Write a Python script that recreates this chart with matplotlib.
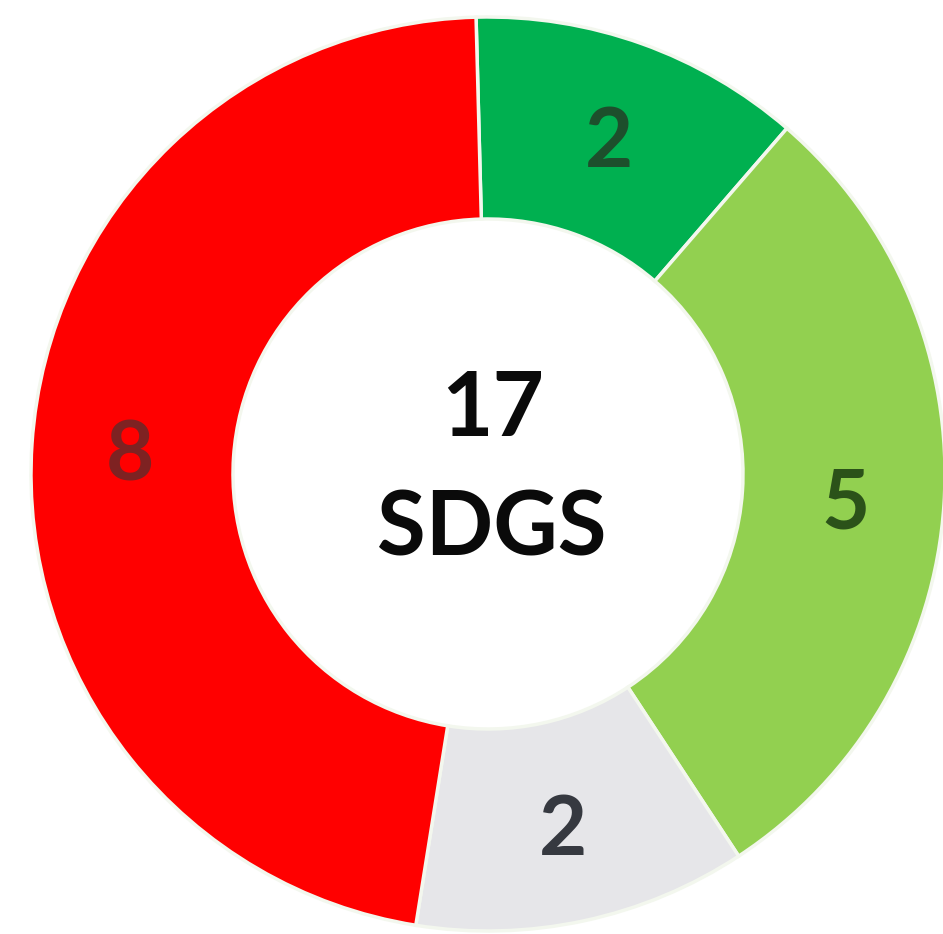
import matplotlib.pyplot as plt

# SDG status counts, clockwise from the top
categories = ['On track', 'Improving', 'No data', 'Off track']
counts = [2, 5, 2, 8]
wedge_colors = ['#00b050', '#92d050', '#e6e6e9', '#ff0000']
label_colors = ['#1d4f2c', '#2b5219', '#363940', '#7e2222']
center_lines = ['17', 'SDGS']

W, H = 943, 934
CX, CY = 488, 460
R = 457

fig = plt.figure(figsize=(W / 100, H / 100), dpi=100)
ax = fig.add_axes([0, 0, 1, 1])

total = sum(counts)
wedges, texts, autotexts = ax.pie(
    counts,
    colors=wedge_colors,
    startangle=91.5,
    counterclock=False,
    radius=R,
    center=(CX, CY),
    autopct=lambda p: '{:d}'.format(int(round(p * total / 100))),
    pctdistance=0.785,
    wedgeprops=dict(width=R * 0.442, edgecolor='#f3f7ee', linewidth=2.5),
    textprops=dict(family='Lato', fontweight='bold', fontsize=60),
)
for t, c in zip(autotexts, label_colors):
    t.set_color(c)
    t.set_va('center_baseline')

ax.text(CX + 5, CY + 72, center_lines[0], ha='center', va='center_baseline',
        family='Lato', fontweight='bold', fontsize=64, color='#0a0a0a')
ax.text(CX + 4, CY - 48, center_lines[1], ha='center', va='center_baseline',
        family='Lato', fontweight='bold', fontsize=64, color='#0a0a0a')

ax.set_xlim(0, W)
ax.set_ylim(0, H)
ax.set_aspect('equal')
ax.axis('off')

fig.savefig('out.png', dpi=100, facecolor='white')
